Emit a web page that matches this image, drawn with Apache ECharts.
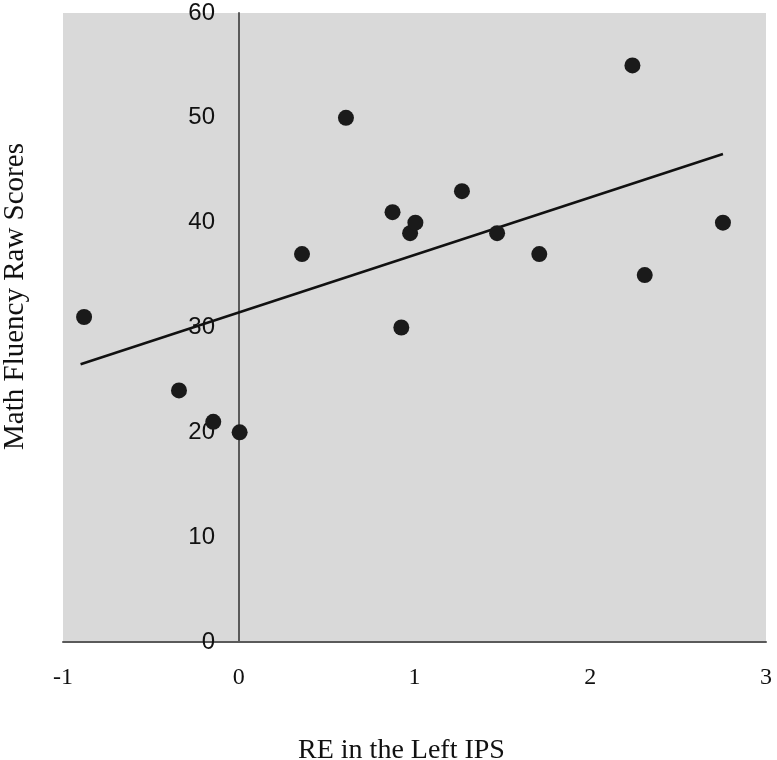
<!DOCTYPE html>
<html>
<head>
<meta charset="utf-8">
<script src="https://cdn.jsdelivr.net/npm/echarts@6/dist/echarts.min.js"></script>
<style>html,body{margin:0;padding:0;background:#fff;}#c{width:777px;height:760px;}</style>
</head>
<body>
<div id="c"></div>
<script>
var reX = [-0.88, -0.34, -0.145, 0.005, 0.36, 0.61, 0.875, 0.925, 0.975, 1.005, 1.27, 1.47, 1.71, 2.24, 2.31, 2.755];
var mathScores = [31, 24, 21, 20, 37, 50, 41, 30, 39, 40, 43, 39, 37, 55, 35, 40];
var trendX = [-0.9, 2.755];
var trendY = [26.5, 46.55];
var xTicks = [-1, 0, 1, 2, 3];
var yTicks = [0, 10, 20, 30, 40, 50, 60];

var points = reX.map(function (x, i) { return [x, mathScores[i]]; });
var trend = trendX.map(function (x, i) { return [x, trendY[i]]; });

var chart = echarts.init(document.getElementById('c'));
chart.setOption({
  animation: false,
  backgroundColor: '#ffffff',
  grid: { left: 63, right: 11, top: 13, bottom: 118, containLabel: false, outerBoundsMode: 'none', show: true, backgroundColor: '#d9d9d9', borderWidth: 0 },
  xAxis: {
    type: 'value', min: xTicks[0], max: xTicks[xTicks.length - 1], interval: 1,
    name: 'RE in the Left IPS', nameLocation: 'middle', nameGap: 95,
    nameTextStyle: { fontFamily: 'Liberation Serif', fontSize: 28, color: '#111', padding: [0, 26, 0, 0] },
    axisLine: { onZero: false, lineStyle: { color: '#5a5a5a', width: 2 } },
    axisTick: { show: false },
    splitLine: { show: false },
    axisLabel: { fontFamily: 'Liberation Serif', fontSize: 24, color: '#111', margin: 24 }
  },
  yAxis: {
    type: 'value', min: yTicks[0], max: yTicks[yTicks.length - 1], interval: 10,
    name: 'Math Fluency Raw Scores', nameLocation: 'middle', nameGap: 33, nameRotate: 90,
    nameTextStyle: { fontFamily: 'Liberation Serif', fontSize: 29, color: '#111', padding: [0, 0, 0, 62] },
    axisLine: { onZero: true, lineStyle: { color: '#5a5a5a', width: 2 } },
    axisTick: { show: false },
    splitLine: { show: false },
    axisLabel: { fontFamily: 'Liberation Sans', fontSize: 24, color: '#111', margin: -152 }
  },
  series: [
    {
      type: 'line', data: trend, symbol: 'none', z: 3,
      lineStyle: { color: '#111', width: 2.5 }
    },
    {
      type: 'scatter', data: points, symbol: 'circle', symbolSize: 16, z: 4,
      itemStyle: { color: '#1a1a1a', opacity: 1 }
    }
  ]
});
</script>
</body>
</html>
